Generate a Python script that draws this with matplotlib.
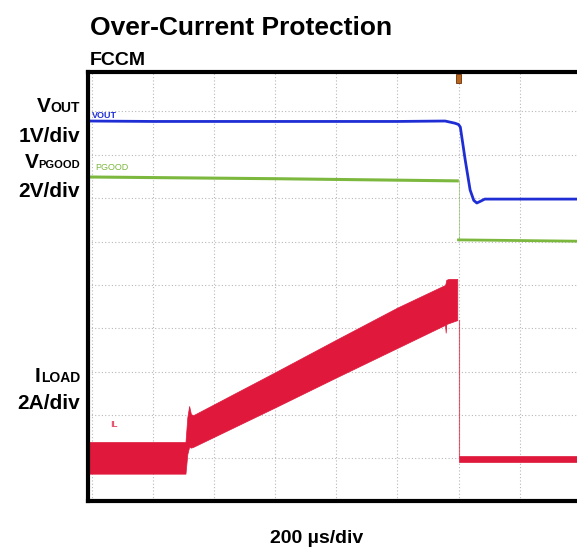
import matplotlib
matplotlib.use("Agg")
import matplotlib.pyplot as plt
from matplotlib.patches import Rectangle
import matplotlib.transforms as mtransforms

plt.rcParams['font.family'] = ['Liberation Sans', 'DejaVu Sans']

# time axis in divisions (200 us/div), amplitude in divisions
t_fault = 6.0

# VOUT trace (1V/div)
vout_t = [-0.08, 1.0, 3.0, 5.0, 5.78, 5.94, 6.0, 6.03, 6.11, 6.19, 6.25, 6.30, 6.36, 6.43, 6.6, 7.94]
vout_v = [8.78, 8.77, 8.77, 8.77, 8.78, 8.73, 8.70, 8.64, 7.88, 7.19, 6.95, 6.89, 6.93, 6.98, 6.98, 6.98]

# PGOOD trace (2V/div), before and after the fault
pg_pre_t = [-0.08, 3.0, 5.98]
pg_pre_v = [7.49, 7.45, 7.40]
pg_post_t = [6.0, 7.94]
pg_post_v = [6.04, 6.01]

# inductor current envelope (2A/div) up to the fault
il_t     = [-0.08, 1.53, 1.56, 1.59, 1.62, 1.66, 3.0, 4.0, 5.0, 5.78, 5.79, 5.80, 5.84, 5.98]
il_upper = [1.38, 1.38, 1.95, 2.21, 2.02, 2.00, 2.99, 3.74, 4.48, 5.00, 5.05, 5.12, 5.14, 5.14]
il_lower = [0.65, 0.65, 1.10, 1.27, 1.25, 1.27, 2.18, 2.87, 3.55, 4.08, 3.90, 4.10, 4.12, 4.19]

# inductor current after the fault
il_post_t = [6.0, 7.94]
il_post_upper = [1.06, 1.06]
il_post_lower = [0.93, 0.93]

blue = '#1f2ed4'
green = '#7cb83e'
red = '#e0183c'

W, H = 577, 548
fig = plt.figure(figsize=(W / 100, H / 100), dpi=100)


def fx(x):
    return x / W


def fy(y):
    return 1 - y / H


ax = fig.add_axes([fx(87.5), fy(501), fx(577 - 87.5), (501 - 72) / H])
ax.set_xlim(-0.074, 7.94)
ax.set_ylim(0.02, 9.91)

ax.set_xticks(range(0, 8))
ax.set_yticks(range(1, 10))
ax.tick_params(length=0, labelbottom=False, labelleft=False)
ax.grid(True, linestyle=(0, (1, 2)), color='#b8b8b8', linewidth=0.8)
ax.set_axisbelow(True)
for s in ['left', 'top', 'bottom']:
    ax.spines[s].set_linewidth(3)
    ax.spines[s].set_color('black')
ax.spines['right'].set_visible(False)

# traces
ax.plot(vout_t, vout_v, color=blue, lw=2.0, solid_capstyle='butt')
ax.plot(pg_pre_t, pg_pre_v, color=green, lw=2.2)
ax.plot(pg_post_t, pg_post_v, color=green, lw=2.0)
ax.plot([t_fault, t_fault], [pg_pre_v[-1], pg_post_v[0]], color=green, lw=0.6, alpha=0.6)

ax.fill_between(il_t, il_lower, il_upper, color=red, lw=0.5, edgecolor=red)
ax.fill_between(il_post_t, il_post_lower, il_post_upper, color=red, lw=0.5, edgecolor=red)
ax.plot([t_fault, t_fault], [il_post_upper[0], il_lower[-1]], color=red, lw=0.8, alpha=0.7)

# trace tags
ax.text(0.0, 8.85, 'VOUT', color=blue, fontsize=6.5, fontweight='bold')
ax.text(0.05, 7.65, 'PGOOD', color=green, fontsize=6.5)
ax.text(0.3, 1.73, 'IL', color=red, fontsize=6.5)

# trigger marker
trans = mtransforms.blended_transform_factory(ax.transData, ax.transAxes)
ax.add_patch(Rectangle((t_fault - 0.04, 0.975), 0.08, 0.021, transform=trans,
                       facecolor='#b8651e', edgecolor='#6b3008', lw=0.6, clip_on=False))

# titles
fig.text(fx(90), fy(35), 'Over-Current Protection', fontsize=19, fontweight='bold', va='baseline')
fig.text(fx(90), fy(65), 'FCCM', fontsize=14, fontweight='bold', va='baseline')
fig.text(fx(317), fy(543), '200 µs/div', fontsize=14, fontweight='bold', va='baseline', ha='center')

# channel labels on the left (big first letter + small caps)
fig.canvas.draw()
renderer = fig.canvas.get_renderer()


def chan_label(first, rest, rest_size, baseline):
    t = fig.text(fx(80), fy(baseline), rest, fontsize=rest_size, fontweight='bold',
                 ha='right', va='baseline')
    bb = t.get_window_extent(renderer)
    fig.text(fx(bb.x0), fy(baseline), first, fontsize=15, fontweight='bold',
             ha='right', va='baseline')


chan_label('V', 'OUT', 10, 112)
fig.text(fx(80), fy(142), '1V/div', fontsize=15, fontweight='bold', ha='right', va='baseline')
chan_label('V', 'PGOOD', 8, 168)
fig.text(fx(80), fy(197), '2V/div', fontsize=15, fontweight='bold', ha='right', va='baseline')
chan_label('I', 'LOAD', 10, 382)
fig.text(fx(80), fy(409), '2A/div', fontsize=15, fontweight='bold', ha='right', va='baseline')

fig.savefig('out.png', dpi=100)
